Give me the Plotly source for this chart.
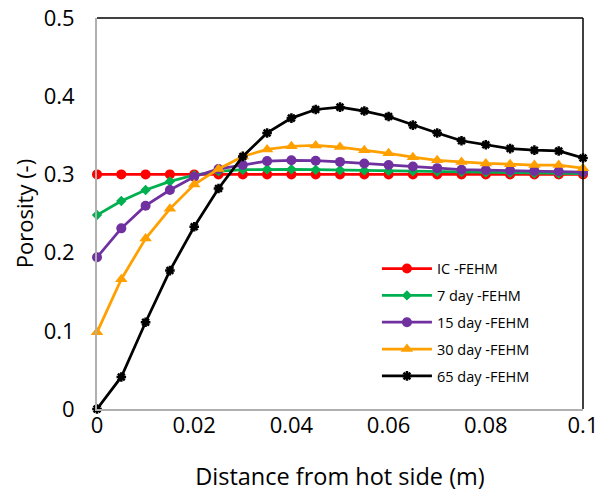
import plotly.graph_objects as go

distance = [0, 0.005, 0.01, 0.015, 0.02, 0.025, 0.03, 0.035, 0.04, 0.045, 0.05,
            0.055, 0.06, 0.065, 0.07, 0.075, 0.08, 0.085, 0.09, 0.095, 0.1]

ic = [0.3, 0.3, 0.3, 0.3, 0.3, 0.3, 0.3, 0.3, 0.3, 0.3, 0.3,
      0.3, 0.3, 0.3, 0.3, 0.3, 0.3, 0.3, 0.3, 0.3, 0.3]
day7 = [0.248, 0.266, 0.280, 0.291, 0.299, 0.304, 0.306, 0.3065, 0.3065, 0.306, 0.3055,
        0.305, 0.3045, 0.304, 0.3035, 0.303, 0.3025, 0.302, 0.3015, 0.301, 0.301]
day15 = [0.194, 0.231, 0.260, 0.280, 0.297, 0.307, 0.312, 0.317, 0.318, 0.3175, 0.316,
         0.314, 0.312, 0.310, 0.308, 0.306, 0.3055, 0.305, 0.3045, 0.304, 0.303]
day30 = [0.098, 0.166, 0.218, 0.256, 0.287, 0.307, 0.323, 0.332, 0.336, 0.337, 0.335,
         0.331, 0.327, 0.322, 0.318, 0.316, 0.314, 0.313, 0.312, 0.312, 0.308]
day65 = [0.0, 0.041, 0.111, 0.177, 0.233, 0.282, 0.323, 0.353, 0.372, 0.383, 0.386,
         0.381, 0.374, 0.363, 0.353, 0.343, 0.338, 0.333, 0.331, 0.330, 0.321]

x_ticks = [0, 0.02, 0.04, 0.06, 0.08, 0.1]
x_labels = ["0", "0.02", "0.04", "0.06", "0.08", "0.1"]
y_ticks = [0, 0.1, 0.2, 0.3, 0.4, 0.5]
y_labels = ["0", "0.1", "0.2", "0.3", "0.4", "0.5"]

series = [
    ("IC -FEHM", ic, "#ff0000", "circle", 10),
    ("7 day -FEHM", day7, "#00b050", "diamond", 8),
    ("15 day -FEHM", day15, "#7030a0", "circle", 10),
    ("30 day -FEHM", day30, "#ffa000", "triangle-up", 11),
    ("65 day -FEHM", day65, "#000000", "asterisk-open", 8),
]

font = "Open Sans, Noto Sans, sans-serif"

fig = go.Figure()
for i, (name, vals, color, sym, size) in enumerate(series):
    marker = dict(symbol=sym, size=size, color=color)
    if sym == "asterisk-open":
        marker["line"] = dict(color=color, width=2.5)
    fig.add_trace(go.Scatter(
        x=distance, y=vals, name=name, mode="lines+markers", legendgroup=f"g{i}",
        line=dict(color=color, width=2.75), marker=marker, cliponaxis=False,
    ))

fig.update_layout(
    width=597, height=492,
    margin=dict(l=97, r=14, t=18, b=83),
    paper_bgcolor="white", plot_bgcolor="white",
    font=dict(family=font, size=20, color="#000000"),
    showlegend=True,
    legend=dict(x=0.576, y=0.4, xanchor="left", yanchor="top",
                bgcolor="white", font=dict(size=14.5, family=font),
                tracegroupgap=5, itemwidth=50),
    xaxis=dict(
        range=[0, 0.1], tickvals=x_ticks, ticktext=x_labels,
        showgrid=False, zeroline=False, showline=True, linecolor="#b0b0b0",
        linewidth=2, mirror=False, ticks="", ticklen=0, automargin=False,
        tickfont=dict(size=22), ticklabelstandoff=-4, ticklabeloverflow="allow",
        title=dict(text="Distance from hot side (m)", font=dict(size=23.5), standoff=47),
    ),
    yaxis=dict(
        range=[0, 0.5], tickvals=y_ticks, ticktext=y_labels,
        showgrid=False, zeroline=False, showline=True, linecolor="#b0b0b0",
        linewidth=2, ticks="", ticklen=0, automargin=False,
        tickfont=dict(size=22), ticklabelstandoff=16,
        title=dict(text="Porosity (-)", font=dict(size=22), standoff=4),
    ),
    shapes=[
        dict(type="line", xref="paper", yref="paper", x0=0, x1=1, y0=1, y1=1,
             line=dict(color="black", width=1.5)),
        dict(type="line", xref="paper", yref="paper", x0=1, x1=1, y0=0, y1=1,
             line=dict(color="black", width=1.5)),
    ],
)

fig.write_html("out.html", config={"displayModeBar": False},
               post_script="document.body.style.margin='0';")
